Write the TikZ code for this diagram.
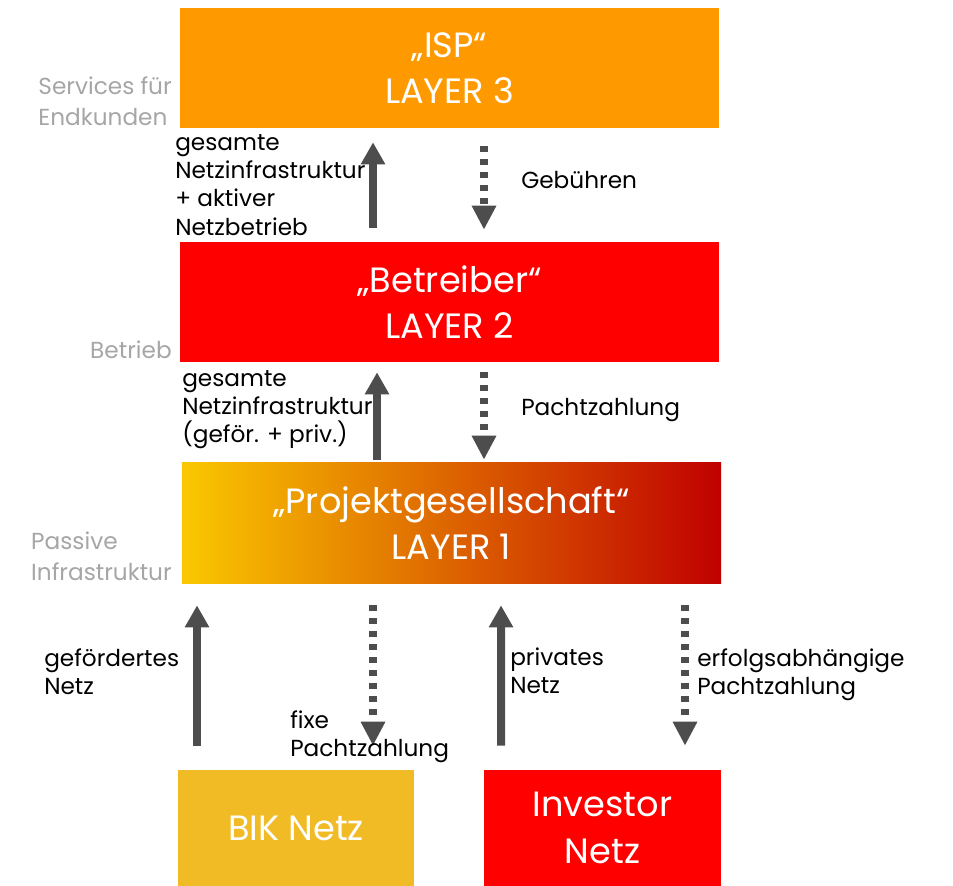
\documentclass[tikz,border=0pt]{standalone}
\usepackage{fontspec}
\setmainfont{Poppins}
\usetikzlibrary{arrows.meta,calc}
\definecolor{ispOrange}{HTML}{FF9900}
\definecolor{layerRed}{HTML}{FF0000}
\definecolor{bikYellow}{HTML}{F0BB24}
\definecolor{gradLeft}{HTML}{FAC800}
\definecolor{gradMid}{HTML}{DC8200}
\definecolor{gradRight}{HTML}{C00000}
\definecolor{arrGray}{HTML}{4D4D4D}
\definecolor{sideGray}{HTML}{A6A6A6}

\begin{document}
\begin{tikzpicture}[x=0.025cm, y=-0.025cm,
	layerbox/.style={inner sep=0pt, text=white, align=center, font=\fontsize{25}{33}\selectfont},
	lbl/.style={inner sep=0pt, anchor=west, align=left, text=black, font=\fontsize{16.5}{20}\selectfont},
	sidelbl/.style={inner sep=0pt, anchor=east, align=left, text=sideGray, font=\fontsize{16.5}{22}\selectfont},
	uparrow/.style={draw=arrGray, line width=0.2cm, -{Triangle[width=0.575cm,length=0.55cm]}},
	dotarrow/.style={draw=arrGray, line width=0.2cm, dash pattern=on 0.15cm off 0.175cm, -{Triangle[width=0.575cm,length=0.6cm]}}]
			%%%%% START %%%%%
			\useasboundingbox (0,0) rectangle (953,886);
			
			% layer boxes
			\node[layerbox, fill=ispOrange, minimum width=13.475cm, minimum height=3cm] (isp) at (449.5,68) {„ISP“\\LAYER 3};
			\node[layerbox, fill=layerRed, minimum width=13.475cm, minimum height=3cm] (betr) at (449.5,302) {„Betreiber“\\LAYER 2};
			\node[layerbox, left color=gradLeft, middle color=gradMid, right color=gradRight, minimum width=13.475cm, minimum height=3cm] (proj) at (451.5,523) {„Projektgesellschaft“\\LAYER 1};
			
			\node[layerbox, fill=bikYellow, minimum width=5.9cm, minimum height=2.9cm] (bik) at (296,828) {BIK Netz};
			\node[layerbox, fill=layerRed, minimum width=5.925cm, minimum height=2.9cm] (inv) at (602.5,828) {Investor\\Netz};
			
			% side labels
			\node[sidelbl] (svc) at (172,101) {Services für\\Endkunden};
			\node[sidelbl] (btr) at (172,350) {Betrieb};
			\node[sidelbl] (pas) at (172,556) {Passive\\Infrastruktur};
			
			% layer 2 <-> layer 3
			\draw[uparrow] ($(betr.north)+(-76.5,-14)$) -- ($(isp.south)+(-76.5,14)$);
			\draw[dotarrow] ($(isp.south)+(34.5,18)$) -- ($(betr.north)+(34.5,-12)$);
			\node[lbl] (netz3) at (175,185) {gesamte\\Netzinfrastruktur\\+ aktiver\\Netzbetrieb};
			\node[lbl] (geb) at (521,180) {Gebühren};
			
			% layer 1 <-> layer 2
			\draw[uparrow] ($(proj.north)+(-74.5,-3)$) -- ($(betr.south)+(-72.5,10)$);
			\draw[dotarrow] ($(betr.south)+(34.5,10)$) -- ($(proj.north)+(32.5,-3)$);
			\node[lbl] (netz2) at (182,410) {gesamte\\Netzinfrastruktur\\(geför. + priv.)};
			\node[lbl] (pacht) at (521,410) {Pachtzahlung};
			
			% netze <-> layer 1
			\draw[uparrow] ($(bik.north)+(-99,-24)$) -- ($(proj.south)+(-254.5,22)$);
			\draw[dotarrow] ($(proj.south)+(-78.5,22)$) -- ($(bik.north)+(77,-24)$);
			\draw[uparrow] ($(inv.north)+(-101.5,-24)$) -- ($(proj.south)+(49.5,22)$);
			\draw[dotarrow] ($(proj.south)+(233.5,22)$) -- ($(inv.north)+(82.5,-24)$);
			
			\node[lbl] (gef) at (44,672) {gefördertes\\Netz};
			\node[lbl] (fixe) at (290,737) {fixe\\Pachtzahlung};
			\node[lbl] (priv) at (510,671) {privates\\Netz};
			\node[lbl] (erf) at (697,675) {erfolgsabhängige\\Pachtzahlung};
			%%%%% END %%%%%
\end{tikzpicture}
\end{document}
